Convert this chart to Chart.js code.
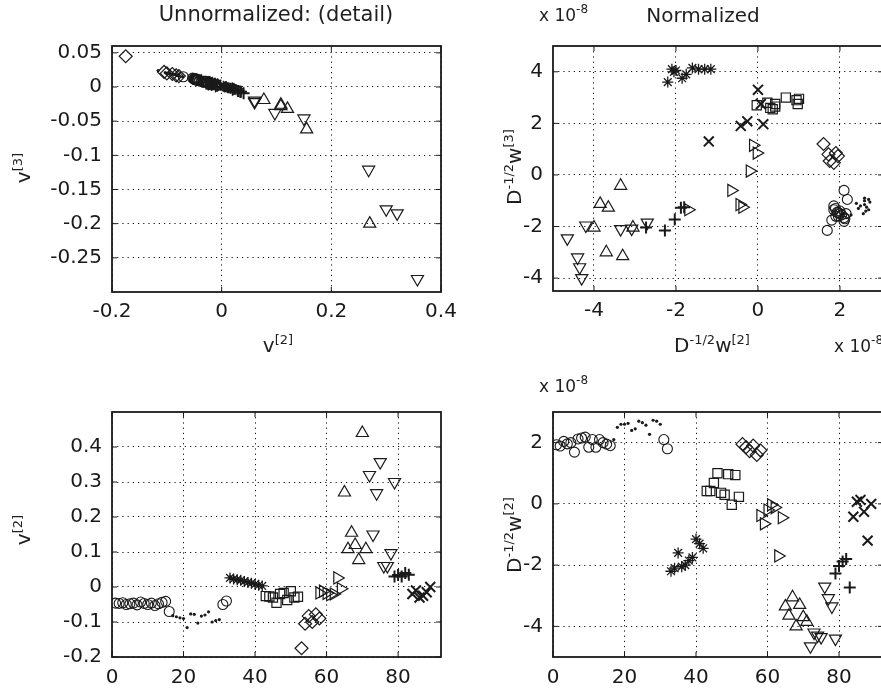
<!DOCTYPE html>
<html>
<head>
<meta charset="utf-8">
<script src="https://cdn.jsdelivr.net/npm/chart.js@4.4.1/dist/chart.umd.min.js"></script>
<style>
  html, body { margin: 0; padding: 0; background: #fff; }
  body { width: 881px; height: 691px; overflow: hidden; position: relative; font-family: "DejaVu Sans", sans-serif; color: #1f1f1f; }
  canvas { position: absolute; }
  .lbl { position: absolute; font-size: 20px; white-space: nowrap; line-height: 1; }
  .lbl sup { font-size: 13px; vertical-align: 0.6em; line-height: 0; }
  .exp { font-size: 17px; }
  .exp sup { font-size: 12px; }
  .ctr { transform: translate(-50%, -50%); }
  .rot { transform: translate(-50%, -50%) rotate(-90deg); }
  .lft { transform: translateY(-50%); }
</style>
</head>
<body>
<canvas id="tl"></canvas>
<canvas id="tr"></canvas>
<canvas id="bl"></canvas>
<canvas id="br"></canvas>

<div class="lbl ctr" style="left:276px; top:14px; font-size:21px;">Unnormalized: (detail)</div>
<div class="lbl lft exp" style="left:539px; top:15px;">x 10<sup>-8</sup></div>
<div class="lbl ctr" style="left:703px; top:15px;">Normalized</div>
<div class="lbl rot" style="left:23px; top:168px;">v<sup>[3]</sup></div>
<div class="lbl ctr" style="left:278px; top:345px;">v<sup>[2]</sup></div>
<div class="lbl rot" style="left:514px; top:167px;">D<sup>-1/2</sup>w<sup>[3]</sup></div>
<div class="lbl ctr" style="left:712px; top:345px;">D<sup>-1/2</sup>w<sup>[2]</sup></div>
<div class="lbl lft exp" style="left:834px; top:346px;">x 10<sup>-8</sup></div>
<div class="lbl lft exp" style="left:539px; top:386px;">x 10<sup>-8</sup></div>
<div class="lbl rot" style="left:23px; top:530px;">v<sup>[2]</sup></div>
<div class="lbl rot" style="left:514px; top:535px;">D<sup>-1/2</sup>w<sup>[2]</sup></div>

<script>
// ---- data: one set of arrays per marker group ----
// idx = sample index, v2/v3 = unnormalized eigvec entries, w2/w3 = normalized (x 1e-8)
const idxCircle = [1, 2, 3, 4, 5, 6, 7, 8, 9, 10, 11, 12, 13, 14, 15, 16, 31, 32];
const v2Circle = [-0.046, -0.047, -0.045, -0.05, -0.048, -0.046, -0.051, -0.043, -0.047, -0.05, -0.046, -0.053, -0.048, -0.044, -0.041, -0.07, -0.05, -0.04];
const v3Circle = [0.011, 0.012, 0.010, 0.012, 0.011, 0.010, 0.012, 0.010, 0.011, 0.012, 0.011, 0.013, 0.012, 0.010, 0.009, 0.015, 0.012, 0.009];
const w2Circle = [1.93, 1.89, 2.04, 1.96, 2.0, 1.69, 2.12, 2.15, 2.18, 1.85, 2.1, 1.85, 2.1, 2.0, 1.95, 1.9, 2.1, 1.8];
const w3Circle = [-1.45, -1.3, -1.55, -1.6, -1.4, -2.15, -1.7, -1.5, -0.95, -1.35, -1.65, -1.2, -1.8, -1.5, -1.45, -1.6, -0.6, -1.75];

const idxDot = [17, 18, 19, 20, 21, 22, 23, 24, 25, 26, 27, 28, 29, 30];
const v2Dot = [-0.082, -0.085, -0.088, -0.09, -0.116, -0.077, -0.078, -0.103, -0.083, -0.08, -0.071, -0.1, -0.096, -0.093];
const v3Dot = [0.017, 0.018, 0.019, 0.019, 0.024, 0.016, 0.017, 0.021, 0.018, 0.017, 0.015, 0.02, 0.02, 0.019];
const w2Dot = [2.1, 2.5, 2.6, 2.6, 2.63, 2.4, 2.45, 2.7, 2.65, 2.57, 2.27, 2.73, 2.7, 2.6];
const w3Dot = [-1.5, -1.2, -1.0, -0.9, -1.4, -1.1, -1.3, -0.95, -1.25, -1.5, -1.55, -1.05, -1.35, -1.15];

const idxStar = [33, 34, 35, 36, 37, 38, 39, 40, 41, 42];
const v2Star = [0.026, 0.023, 0.021, 0.019, 0.016, 0.013, 0.011, 0.008, 0.005, 0.003];
const v3Star = [-0.004, -0.003, -0.003, -0.002, -0.002, -0.001, -0.001, 0.0, 0.0, 0.001];
const w2Star = [-2.2, -2.1, -1.6, -2.05, -2.0, -1.85, -1.75, -1.15, -1.3, -1.45];
const w3Star = [3.6, 4.1, 4.15, 4.0, 4.05, 3.75, 3.9, 4.1, 4.1, 4.1];

const idxSquare = [43, 44, 45, 46, 47, 48, 49, 50, 51, 52];
const v2Square = [-0.026, -0.027, -0.03, -0.045, -0.02, -0.017, -0.037, -0.012, -0.03, -0.028];
const v3Square = [0.007, 0.007, 0.008, 0.011, 0.005, 0.004, 0.009, 0.003, 0.008, 0.007];
const w2Square = [0.42, 0.42, 0.68, 1.0, 0.36, 0.3, 0.97, -0.03, 0.94, 0.23];
const w3Square = [2.75, 2.65, 3.0, 2.95, 2.55, 2.6, 2.75, 2.7, 2.9, 2.8];

const idxDiamond = [53, 54, 55, 56, 57, 58];
const v2Diamond = [-0.175, -0.105, -0.083, -0.1, -0.078, -0.09];
const v3Diamond = [0.045, 0.022, 0.017, 0.02, 0.016, 0.019];
const w2Diamond = [1.95, 1.85, 1.72, 1.9, 1.6, 1.75];
const w3Diamond = [0.73, 0.47, 0.8, 0.85, 1.2, 0.54];

const idxRight = [58, 59, 60, 61, 62, 63, 64];
const v2Right = [-0.017, -0.012, -0.018, -0.022, -0.02, 0.026, -0.005];
const v3Right = [0.005, 0.004, 0.005, 0.006, 0.006, -0.003, 0.002];
const w2Right = [-0.38, -0.65, -0.2, -0.03, -0.12, -1.7, -0.45];
const w3Right = [-1.25, -0.6, 0.15, 0.85, 1.15, -1.35, -1.15];

const idxUp = [65, 66, 67, 68, 69, 70, 71];
const v2Up = [0.27, 0.108, 0.155, 0.12, 0.077, 0.44, 0.108];
const v3Up = [-0.2, -0.028, -0.062, -0.032, -0.019, -0.35, -0.026];
const w2Up = [-3.35, -3.65, -3.05, -4.0, -3.3, -3.7, -3.85];
const w3Up = [-0.42, -1.27, -2.04, -2.04, -3.15, -3.0, -1.12];

const idxDown = [72, 73, 74, 75, 76, 77, 78, 79];
const v2Down = [0.32, 0.15, 0.268, 0.357, 0.06, 0.06, 0.097, 0.3];
const v3Down = [-0.185, -0.046, -0.121, -0.281, -0.02, -0.022, -0.038, -0.179];
const w2Down = [-4.65, -4.2, -4.3, -4.35, -2.7, -3.08, -3.35, -4.4];
const w3Down = [-2.46, -1.96, -4.0, -3.58, -1.85, -2.08, -2.1, -3.2];

const idxPlus = [79, 80, 81, 82, 83];
const v2Plus = [0.03, 0.034, 0.03, 0.04, 0.035];
const v3Plus = [-0.006, -0.007, -0.006, -0.009, -0.007];
const w2Plus = [-2.27, -2.03, -1.88, -1.8, -2.73];
const w3Plus = [-2.15, -1.73, -1.27, -1.25, -2.04];

const idxCross = [84, 85, 86, 87, 88, 89];
const v2Cross = [-0.02, -0.01, -0.03, -0.025, -0.015, 0.0];
const v3Cross = [0.006, 0.003, 0.008, 0.007, 0.005, 0.001];
const w2Cross = [-0.42, 0.07, 0.13, -0.26, -1.2, 0.0];
const w3Cross = [1.9, 2.75, 1.97, 2.08, 1.3, 3.3];

// tick values
const tlXTicks = [-0.2, 0, 0.2, 0.4];
const tlYTicks = [-0.25, -0.2, -0.15, -0.1, -0.05, 0, 0.05];
const trXTicks = [-4, -2, 0, 2];
const trYTicks = [-4, -2, 0, 2, 4];
const idxTicks = [0, 20, 40, 60, 80];
const blYTicks = [-0.2, -0.1, 0, 0.1, 0.2, 0.3, 0.4];
const brYTicks = [-4, -2, 0, 2];

// marker looks (MATLAB-ish)
const INK = '#1a1a1a';
const markers = {
  circle:  { pointStyle: 'circle',   pointRadius: 5,   pointBorderWidth: 1.1 },
  dot:     { pointStyle: 'circle',   pointRadius: 1.6, pointBorderWidth: 0, pointBackgroundColor: INK },
  star:    { pointStyle: 'star',     pointRadius: 5.5, pointBorderWidth: 1.3 },
  square:  { pointStyle: 'rect',     pointRadius: 6.5, pointBorderWidth: 1.2 },
  diamond: { pointStyle: 'rectRot',  pointRadius: 6.5, pointBorderWidth: 1.2 },
  right:   { pointStyle: 'triangle', pointRadius: 7,   pointBorderWidth: 1.2, pointRotation: 90 },
  up:      { pointStyle: 'triangle', pointRadius: 7,   pointBorderWidth: 1.2 },
  down:    { pointStyle: 'triangle', pointRadius: 7,   pointBorderWidth: 1.2, pointRotation: 180 },
  plus:    { pointStyle: 'cross',    pointRadius: 6,   pointBorderWidth: 2 },
  cross:   { pointStyle: 'crossRot', pointRadius: 7,   pointBorderWidth: 2 }
};

const groups = [
  { m: 'circle',  idx: idxCircle,  v2: v2Circle,  v3: v3Circle,  w2: w2Circle,  w3: w3Circle },
  { m: 'dot',     idx: idxDot,     v2: v2Dot,     v3: v3Dot,     w2: w2Dot,     w3: w3Dot },
  { m: 'star',    idx: idxStar,    v2: v2Star,    v3: v3Star,    w2: w2Star,    w3: w3Star },
  { m: 'square',  idx: idxSquare,  v2: v2Square,  v3: v3Square,  w2: w2Square,  w3: w3Square },
  { m: 'diamond', idx: idxDiamond, v2: v2Diamond, v3: v3Diamond, w2: w2Diamond, w3: w3Diamond },
  { m: 'right',   idx: idxRight,   v2: v2Right,   v3: v3Right,   w2: w2Right,   w3: w3Right },
  { m: 'up',      idx: idxUp,      v2: v2Up,      v3: v3Up,      w2: w2Up,      w3: w3Up },
  { m: 'down',    idx: idxDown,    v2: v2Down,    v3: v3Down,    w2: w2Down,    w3: w3Down },
  { m: 'plus',    idx: idxPlus,    v2: v2Plus,    v3: v3Plus,    w2: w2Plus,    w3: w3Plus },
  { m: 'cross',   idx: idxCross,   v2: v2Cross,   v3: v3Cross,   w2: w2Cross,   w3: w3Cross }
];

function datasets(xKey, yKey) {
  return groups.map(g => Object.assign({
    data: g[xKey].map((v, i) => ({ x: v, y: g[yKey][i] })),
    pointBorderColor: INK,
    pointBackgroundColor: 'rgba(0,0,0,0)',
    pointHoverRadius: 0,
    showLine: false
  }, markers[g.m]));
}

// box + inward tick marks, like a MATLAB axes
const frame = {
  id: 'frame',
  afterDraw(chart) {
    const { ctx, chartArea: a, scales } = chart;
    ctx.save();
    ctx.strokeStyle = INK;
    ctx.lineWidth = 1;
    ctx.beginPath();
    scales.x.ticks.forEach(t => {
      const px = scales.x.getPixelForValue(t.value);
      ctx.moveTo(px, a.bottom); ctx.lineTo(px, a.bottom - 5);
      ctx.moveTo(px, a.top); ctx.lineTo(px, a.top + 5);
    });
    scales.y.ticks.forEach(t => {
      const py = scales.y.getPixelForValue(t.value);
      ctx.moveTo(a.left, py); ctx.lineTo(a.left + 5, py);
      ctx.moveTo(a.right, py); ctx.lineTo(a.right - 5, py);
    });
    ctx.stroke();
    ctx.lineWidth = 1.8;
    ctx.strokeRect(a.left, a.top, a.right - a.left, a.bottom - a.top);
    ctx.restore();
  }
};

const PAD_L = 90, PAD_T = 20, PAD_R = 30, PAD_B = 50;

function axis(min, max, ticks, isX, pad) {
  return {
    type: 'linear', min, max,
    afterBuildTicks: s => { s.ticks = ticks.map(v => ({ value: v })); },
    afterFit: s => { if (isX) s.height = PAD_B; else s.width = PAD_L; },
    grid: { color: '#111', lineWidth: 1, drawTicks: false, borderDash: [1.2, 4] },
    border: { display: false, dash: [1.2, 4] },
    ticks: {
      autoSkip: false, maxRotation: 0, padding: pad, color: INK,
      font: { family: 'DejaVu Sans', size: 20 },
      callback: v => String(v)
    }
  };
}

function makeChart(id, area, xr, yr, xTicks, yTicks, xKey, yKey, xPad) {
  const cv = document.getElementById(id);
  const w = PAD_L + (area.right - area.left) + PAD_R;
  const h = PAD_T + (area.bottom - area.top) + PAD_B;
  cv.width = w; cv.height = h;
  cv.style.left = (area.left - PAD_L) + 'px';
  cv.style.top = (area.top - PAD_T) + 'px';
  cv.style.width = w + 'px'; cv.style.height = h + 'px';
  return new Chart(cv, {
    type: 'scatter',
    data: { datasets: datasets(xKey, yKey) },
    options: {
      responsive: false, animation: false, devicePixelRatio: 1,
      layout: { padding: { left: 0, top: PAD_T, right: PAD_R, bottom: 0 } },
      plugins: { legend: { display: false }, tooltip: { enabled: false } },
      scales: {
        x: axis(xr[0], xr[1], xTicks, true, xPad),
        y: axis(yr[0], yr[1], yTicks, false, 10)
      }
    },
    plugins: [frame]
  });
}

makeChart('tl', { left: 112, right: 441, top: 44, bottom: 292 }, [-0.2, 0.4], [-0.3, 0.06], tlXTicks, tlYTicks, 'v2', 'v3', 8);
makeChart('tr', { left: 553, right: 883, top: 44, bottom: 291 }, [-5, 3.05], [-4.5, 5], trXTicks, trYTicks, 'w2', 'w3', 8);
makeChart('bl', { left: 112, right: 441, top: 410, bottom: 657 }, [0, 92], [-0.2, 0.5], idxTicks, blYTicks, 'idx', 'v2', 9);
makeChart('br', { left: 553, right: 883, top: 410, bottom: 657 }, [0, 92.3], [-5, 3], idxTicks, brYTicks, 'idx', 'w2', 9);
</script>
</body>
</html>
